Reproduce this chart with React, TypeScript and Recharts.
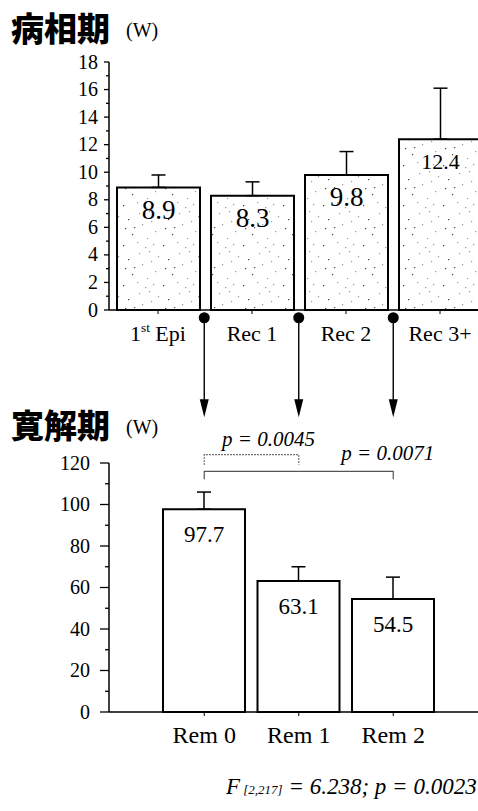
import React from "react";
import { BarChart, Bar, XAxis, YAxis, ErrorBar, LabelList, ReferenceLine } from "recharts";

// 病相期 (episode phase)
const phaseCategories = ["1st Epi", "Rec 1", "Rec 2", "Rec 3+"];
const phaseValues = [8.9, 8.3, 9.8, 12.4];
const phaseErrors = [0.9, 1.0, 1.7, 3.7];
const phaseTicks = [0, 1, 2, 3, 4, 5, 6, 7, 8, 9, 10, 11, 12, 13, 14, 15, 16, 17, 18];

// 寛解期 (remission phase)
const remCategories = ["Rem 0", "Rem 1", "Rem 2"];
const remValues = [97.7, 63.1, 54.5];
const remErrors = [8.3, 6.9, 10.5];
const remTicks = [0, 10, 20, 30, 40, 50, 60, 70, 80, 90, 100, 110, 120];

// arrows linking the two panels, in remission-axis units
const arrowStart = 190;
const arrowEnd = 142;

const brackets = [
  { from: "Rem 0", to: "Rem 1", y: 124, p: "0.0045", dotted: true },
  { from: "Rem 0", to: "Rem 2", y: 116, p: "0.0071", dotted: false },
];

const statLabel = { f: "F", df: "[2,217]", rest: " = 6.238; p = 0.0023" };

const phaseData = phaseCategories.map((name, i) => ({
  name,
  value: phaseValues[i],
  err: [0, phaseErrors[i]],
}));
const remData = remCategories.map((name, i) => ({
  name,
  value: remValues[i],
  err: [0, remErrors[i]],
}));

const SERIF = "'Liberation Serif', 'DejaVu Serif', serif";
const CJK = "'Noto Sans CJK JP', 'Noto Sans CJK SC', sans-serif";

// texture for the stippled bars
const speckles = [
  [3, 5], [17, 2], [29, 11], [8, 19], [22, 24], [35, 31], [12, 34], [27, 38],
  [38, 16], [5, 28], [19, 13], [33, 4], [14, 27], [31, 21], [25, 7],
];

function makeYTick(step: number, majorLen: number, minorLen: number, gap: number, size: number) {
  return (props: any) => {
    const { x, y, payload } = props;
    const major = payload.value % step === 0;
    return (
      <g>
        <line x1={x - (major ? majorLen : minorLen)} x2={x} y1={y} y2={y} stroke="#000" strokeWidth={1.3} />
        {major && (
          <text x={x - majorLen - gap} y={y} dy="0.33em" textAnchor="end" fontSize={size} fontFamily={SERIF} fill="#000">
            {payload.value}
          </text>
        )}
      </g>
    );
  };
}

function makeXTick(size: number) {
  return (props: any) => {
    const { x, y, payload } = props;
    const m = /^(\d+)(st|nd|rd|th)(.*)$/.exec(String(payload.value));
    return (
      <text x={x} y={y} dy={size * 0.71} textAnchor="middle" fontSize={size} fontFamily={SERIF} fill="#000">
        {m ? (
          <>
            <tspan>{m[1]}</tspan>
            <tspan fontSize={size * 0.6} dy={-size * 0.38}>{m[2]}</tspan>
            <tspan dy={size * 0.38}>{m[3]}</tspan>
          </>
        ) : (
          payload.value
        )}
      </text>
    );
  };
}

function makeBarLabel(below: number, size: number, longSize: number) {
  return (props: any) => {
    const { x, y, width, value } = props;
    const s = String(value).length > 3 ? longSize : size;
    return (
      <text x={x + width / 2} y={y + below} dy="0.35em" textAnchor="middle" fontSize={s} fontFamily={SERIF} fill="#000">
        {value}
      </text>
    );
  };
}

const ArrowShape = (p: any) => {
  const { x1, y1, x2, y2 } = p;
  return (
    <g>
      <circle cx={x1} cy={y1} r={5.5} fill="#000" />
      <line x1={x1} y1={y1} x2={x2} y2={y2 - 14} stroke="#000" strokeWidth={1.4} />
      <path d={`M${x2 - 4.5},${y2 - 18} L${x2 + 4.5},${y2 - 18} L${x2},${y2} Z`} fill="#000" />
    </g>
  );
};

// where each bracket's p label sits relative to the bracket
const bracketLabelPlace = [
  { anchor: "middle", dx: 17, dy: -9 },
  { anchor: "end", dx: 41, dy: -11 },
];

function makeBracket(i: number, dotted: boolean, p: string) {
  return (props: any) => {
    const { x1, y1, x2 } = props;
    const leg = dotted ? 10 : 8;
    const place = bracketLabelPlace[i];
    const tx = place.anchor === "middle" ? (x1 + x2) / 2 + place.dx : x2 + place.dx;
    return (
      <g>
        <path
          d={`M${x1},${y1 + leg} V${y1} H${x2} V${y1 + leg}`}
          fill="none"
          stroke={dotted ? "#444" : "#555"}
          strokeWidth={1.2}
          strokeDasharray={dotted ? "1.5 1.5" : undefined}
        />
        <text x={tx} y={y1 + place.dy} textAnchor={place.anchor as any} fontSize={21} fontStyle="italic" fontFamily={SERIF} fill="#000">
          p = {p}
        </text>
      </g>
    );
  };
}

export default function App() {
  return (
    <div style={{ position: "absolute", left: 0, top: 0, width: 478, height: 811, overflow: "hidden", background: "#fff", fontFamily: SERIF }}>
      <svg width={0} height={0} style={{ position: "absolute" }}>
        <defs>
          <pattern id="speckle" width={40} height={40} patternUnits="userSpaceOnUse">
            <rect width={40} height={40} fill="#fff" />
            {speckles.map(([sx, sy], k) => (
              <rect key={k} x={sx} y={sy} width={1.2} height={1.2} fill={k % 3 === 0 ? "#444" : "#999"} />
            ))}
          </pattern>
        </defs>
      </svg>

      <div style={{ position: "absolute", left: 11, top: 11, fontFamily: CJK, fontWeight: 900, fontSize: 33, lineHeight: 1 }}>
        病相期
      </div>
      <div style={{ position: "absolute", left: 126, top: 20, fontSize: 20, lineHeight: 1 }}>(W)</div>

      <div style={{ position: "absolute", left: 0, top: 0 }}>
        <BarChart width={490} height={350} data={phaseData} margin={{ top: 62, right: 3, bottom: 0, left: 0 }}>
          <YAxis
            type="number"
            domain={[0, 18]}
            ticks={phaseTicks}
            interval={0}
            width={109}
            tickLine={false}
            tickSize={0}
            tickMargin={0}
            axisLine={{ stroke: "#000", strokeWidth: 1.5 }}
            tick={makeYTick(2, 5, 3, 6, 20)}
          />
          <XAxis
            dataKey="name"
            height={40}
            padding={{ left: 2, right: 0 }}
            interval={0}
            tickSize={4}
            tickMargin={11}
            tickLine={{ stroke: "#000" }}
            axisLine={{ stroke: "#000", strokeWidth: 1.5 }}
            tick={makeXTick(22)}
          />
          <Bar dataKey="value" barSize={83} fill="url(#speckle)" stroke="#000" strokeWidth={2} isAnimationActive={false}>
            <ErrorBar dataKey="err" width={7} stroke="#000" strokeWidth={1.5} isAnimationActive={false} />
            <LabelList dataKey="value" content={makeBarLabel(22, 27, 22)} />
          </Bar>
        </BarChart>
      </div>

      <div style={{ position: "absolute", left: 11, top: 408, fontFamily: CJK, fontWeight: 900, fontSize: 33, lineHeight: 1 }}>
        寛解期
      </div>
      <div style={{ position: "absolute", left: 126, top: 417, fontSize: 20, lineHeight: 1 }}>(W)</div>

      <div style={{ position: "absolute", left: 0, top: 300 }}>
        <BarChart width={490} height={511} data={remData} margin={{ top: 163, right: 0, bottom: 59, left: 0 }}>
          <YAxis
            type="number"
            domain={[0, 120]}
            ticks={remTicks}
            interval={0}
            width={109}
            tickLine={false}
            tickSize={0}
            tickMargin={0}
            axisLine={{ stroke: "#000", strokeWidth: 1.5 }}
            tick={makeYTick(20, 9, 4, 10, 20)}
          />
          <XAxis
            dataKey="name"
            height={40}
            padding={{ left: 48, right: 49.5 }}
            interval={0}
            tickSize={4}
            tickMargin={10}
            tickLine={{ stroke: "#000" }}
            axisLine={{ stroke: "#000", strokeWidth: 1.5 }}
            tick={makeXTick(24)}
          />
          <Bar dataKey="value" barSize={82} fill="#fff" stroke="#000" strokeWidth={2} isAnimationActive={false}>
            <ErrorBar dataKey="err" width={7} stroke="#000" strokeWidth={1.5} isAnimationActive={false} />
            <LabelList dataKey="value" content={makeBarLabel(25, 23, 23)} />
          </Bar>
          {remCategories.map((c) => (
            <ReferenceLine
              key={c}
              segment={[{ x: c, y: arrowStart }, { x: c, y: arrowEnd }]}
              ifOverflow="visible"
              stroke="#000"
              shape={ArrowShape}
            />
          ))}
          {brackets.map((b, i) => (
            <ReferenceLine
              key={b.p}
              segment={[{ x: b.from, y: b.y }, { x: b.to, y: b.y }]}
              ifOverflow="visible"
              stroke="#000"
              shape={makeBracket(i, b.dotted, b.p)}
            />
          ))}
        </BarChart>
      </div>

      <div style={{ position: "absolute", left: 226, top: 775, fontStyle: "italic", fontSize: 23, lineHeight: 1, whiteSpace: "nowrap" }}>
        {statLabel.f}
        <span style={{ fontSize: 13 }}> {statLabel.df}</span>
        {statLabel.rest}
      </div>
    </div>
  );
}
